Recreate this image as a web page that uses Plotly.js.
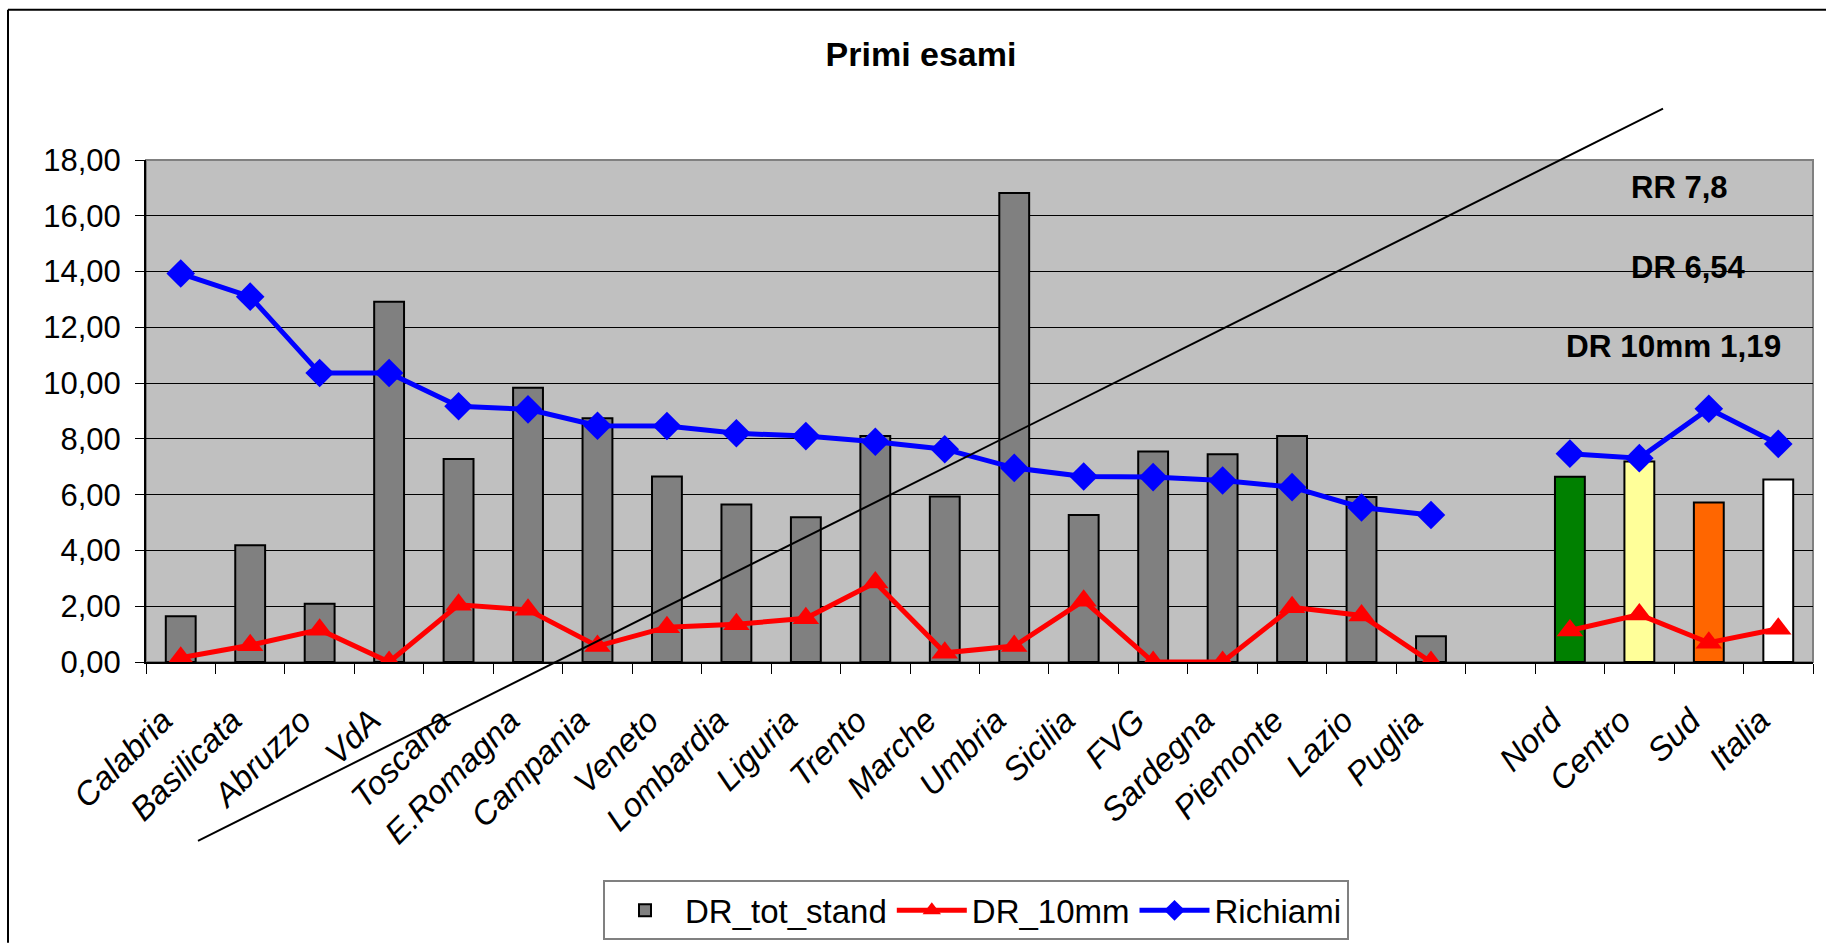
<!DOCTYPE html>
<html>
<head>
<meta charset="utf-8">
<script src="https://cdn.plot.ly/plotly-3.0.1.min.js"></script>
<style>
html,body{margin:0;padding:0;background:#fff;}
#chart{width:1826px;height:952px;}
</style>
</head>
<body>
<div id="chart"></div>
<script>
// ---- data ----
const categories = ["Calabria","Basilicata","Abruzzo","VdA","Toscana","E.Romagna","Campania","Veneto","Lombardia","Liguria","Trento","Marche","Umbria","Sicilia","FVG","Sardegna","Piemonte","Lazio","Puglia"," ","Nord","Centro","Sud","Italia"];
const drTotStand = [1.64,4.19,2.09,12.92,7.28,9.83,8.74,6.65,5.65,5.19,8.10,5.93,16.82,5.27,7.55,7.45,8.10,5.92,0.92,null,6.64,7.19,5.72,6.54];
const dr10mm = [0.15,0.60,1.16,0.00,2.05,1.87,0.57,1.25,1.35,1.57,2.85,0.33,0.57,2.20,0.00,0.00,1.96,1.67,0.00,null,1.13,1.70,0.69,1.19];
const richiami = [13.93,13.10,10.36,10.36,9.17,9.06,8.47,8.46,8.20,8.10,7.90,7.63,6.96,6.65,6.63,6.51,6.27,5.54,5.27,null,7.47,7.31,9.08,7.82];
const barColors = ["#808080","#808080","#808080","#808080","#808080","#808080","#808080","#808080","#808080","#808080","#808080","#808080","#808080","#808080","#808080","#808080","#808080","#808080","#808080","#808080","#008000","#FFFF99","#FF6600","#FFFFFF"];
const noteLabels = ["RR 7,8","DR 6,54","DR 10mm 1,19"];
const titleText = "Primi esami";

const FONT = "Liberation Sans, Arial, sans-serif";

const traces = [
  {type:"bar", name:"DR_tot_stand", x:categories, y:drTotStand, width:0.43,
   marker:{color:barColors, line:{color:"#000000", width:2}}, hoverinfo:"x+y"},
  {type:"scatter", mode:"lines+markers", name:"DR_10mm", x:categories, y:dr10mm,
   line:{color:"#FF0000", width:5}, marker:{symbol:"triangle-up", size:23, color:"#FF0000"}},
  {type:"scatter", mode:"lines+markers", name:"Richiami", x:categories, y:richiami,
   line:{color:"#0000FF", width:5}, marker:{symbol:"diamond", size:22, color:"#0000FF"}}
];

const L=146, R=13, T=160, B=284, W=1826, H=952;
const pw = W-L-R, ph = H-T-B;
const px = v => (v-L)/pw;
const py = v => (H-B-v)/ph;

const layout = {
  width:W, height:H,
  margin:{l:L, r:R, t:T, b:B, pad:0},
  paper_bgcolor:"#FFFFFF",
  plot_bgcolor:"#C0C0C0",
  separators:",.",
  font:{family:FONT, color:"#000000", size:30},
  title:{text:titleText, font:{family:FONT, size:34, weight:"bold", color:"#000"},
         x:px(921), xref:"paper", xanchor:"center", y:1-54/H, yanchor:"middle"},
  showlegend:true,
  legend:{orientation:"h", x:px(976), xanchor:"center", y:py(889), yanchor:"top",
          bgcolor:"#FFFFFF", bordercolor:"#808080", borderwidth:2,
          font:{family:FONT, size:33}, itemwidth:70, traceorder:"normal"},
  xaxis:{type:"category", categoryorder:"array", categoryarray:categories,
         range:[-0.5, categories.length-0.5], autorange:false,
         tickson:"boundaries", ticks:"outside", ticklen:10, tickwidth:1, tickcolor:"#000",
         showline:true, linecolor:"#000", linewidth:2, showgrid:false,
         tickangle:-45, tickfont:{family:FONT, size:33, style:"italic"},
         ticklabelstandoff:24, ticklabelshift:-18, automargin:false},
  yaxis:{range:[0,18], dtick:2, tickformat:".2f", showgrid:true, gridcolor:"#000", gridwidth:1,
         ticks:"outside", ticklen:9, tickcolor:"#000", showline:true, linecolor:"#000", linewidth:2,
         zeroline:false, tickfont:{family:FONT, size:31}, ticklabelstandoff:8, automargin:false, fixedrange:true},
  shapes:[
    {type:"rect", xref:"paper", yref:"paper", x0:0, x1:1, y0:0, y1:1, line:{color:"#808080", width:2}, layer:"below"},
    {type:"line", xref:"paper", yref:"paper", x0:px(8), x1:px(W), y0:py(8), y1:py(8), line:{color:"#000", width:2}},
    {type:"line", xref:"paper", yref:"paper", x0:px(8), x1:px(8), y0:py(8), y1:py(H), line:{color:"#000", width:2}},
    {type:"line", xref:"paper", yref:"paper", x0:px(198), y0:py(849), x1:px(1663), y1:py(108), line:{color:"#000", width:2}}
  ],
  annotations:[
    {text:noteLabels[0], xref:"paper", yref:"paper", x:px(1629), y:py(188), xanchor:"left", yanchor:"middle", showarrow:false, font:{family:FONT, size:31, weight:"bold"}},
    {text:noteLabels[1], xref:"paper", yref:"paper", x:px(1629), y:py(269), xanchor:"left", yanchor:"middle", showarrow:false, font:{family:FONT, size:31, weight:"bold"}},
    {text:noteLabels[2], xref:"paper", yref:"paper", x:px(1564), y:py(348), xanchor:"left", yanchor:"middle", showarrow:false, font:{family:FONT, size:31.5, weight:"bold"}}
  ]
};

Plotly.newPlot("chart", traces, layout, {displayModeBar:false, staticPlot:true});
</script>
</body>
</html>
